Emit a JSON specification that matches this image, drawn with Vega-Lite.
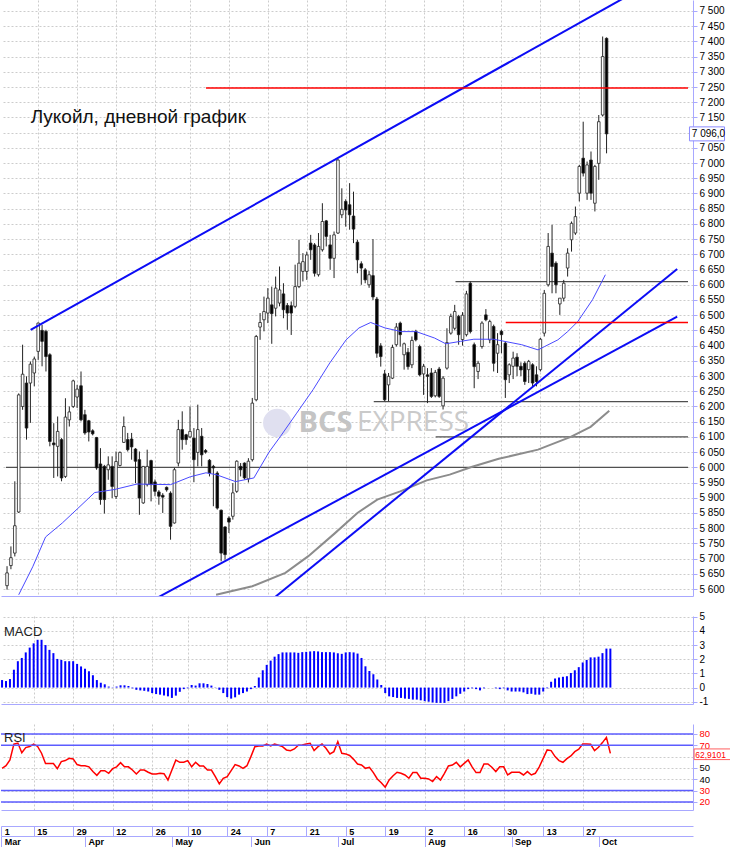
{
  "$schema": "https://vega.github.io/schema/vega-lite/v6.json",
  "padding": 0,
  "background": "white",
  "bounds": "flush",
  "spacing": 20,
  "config": {
    "view": {"stroke": null},
    "axis": {"labelFont": "Liberation Sans", "labelFontSize": 10, "labelColor": "#000000", "labelOverlap": false},
    "text": {"font": "Liberation Sans"}
  },
  "resolve": {"scale": {"x": "independent", "y": "independent"}},
  "datasets": {
    "bars": [
      {"k": -1, "o": 5611, "h": 5675, "l": 5598, "c": 5653, "m": 0.53, "r": 49.7},
      {"k": 0, "o": 5677, "h": 5740, "l": 5665, "c": 5703, "m": 0.46, "r": 52},
      {"k": 1, "o": 5718, "h": 5954, "l": 5707, "c": 5808, "m": 0.6, "r": 57},
      {"k": 2, "o": 5853, "h": 6243, "l": 5850, "c": 6238, "m": 1.26, "r": 71},
      {"k": 3, "o": 6200, "h": 6403, "l": 6189, "c": 6306, "m": 1.86, "r": 72},
      {"k": 4, "o": 6277, "h": 6299, "l": 6091, "c": 6129, "m": 2.09, "r": 63.5},
      {"k": 5, "o": 6277, "h": 6348, "l": 6146, "c": 6339, "m": 2.48, "r": 68},
      {"k": 6, "o": 6310, "h": 6364, "l": 6266, "c": 6356, "m": 2.82, "r": 69},
      {"k": 7, "o": 6381, "h": 6476, "l": 6353, "c": 6474, "m": 3.12, "r": 71},
      {"k": 8, "o": 6450, "h": 6468, "l": 6332, "c": 6414, "m": 3.37, "r": 69},
      {"k": 9, "o": 6447, "h": 6452, "l": 6315, "c": 6364, "m": 3.37, "r": 63},
      {"k": 10, "o": 6370, "h": 6375, "l": 6069, "c": 6085, "m": 3.0, "r": 54},
      {"k": 11, "o": 6080, "h": 6145, "l": 5965, "c": 6074, "m": 2.66, "r": 54},
      {"k": 12, "o": 6069, "h": 6167, "l": 5970, "c": 6118, "m": 2.43, "r": 54},
      {"k": 13, "o": 6091, "h": 6096, "l": 5954, "c": 5965, "m": 2.02, "r": 49.4},
      {"k": 14, "o": 5970, "h": 6227, "l": 5965, "c": 6165, "m": 1.95, "r": 55.6},
      {"k": 15, "o": 6156, "h": 6200, "l": 6134, "c": 6182, "m": 1.86, "r": 56.5},
      {"k": 16, "o": 6200, "h": 6288, "l": 6195, "c": 6284, "m": 1.86, "r": 58.5},
      {"k": 17, "o": 6231, "h": 6271, "l": 6195, "c": 6257, "m": 1.86, "r": 58},
      {"k": 18, "o": 6268, "h": 6315, "l": 6151, "c": 6156, "m": 1.67, "r": 53},
      {"k": 19, "o": 6173, "h": 6189, "l": 6107, "c": 6113, "m": 1.49, "r": 52},
      {"k": 20, "o": 6153, "h": 6156, "l": 6085, "c": 6116, "m": 1.33, "r": 52},
      {"k": 21, "o": 6120, "h": 6125, "l": 6105, "c": 6110, "m": 1.15, "r": 51},
      {"k": 22, "o": 6098, "h": 6100, "l": 5992, "c": 5998, "m": 0.87, "r": 46.8},
      {"k": 23, "o": 6011, "h": 6063, "l": 5877, "c": 5894, "m": 0.53, "r": 43.5},
      {"k": 24, "o": 6003, "h": 6008, "l": 5848, "c": 5894, "m": 0.34, "r": 47.6},
      {"k": 25, "o": 5992, "h": 6036, "l": 5959, "c": 6008, "m": 0.23, "r": 47.6},
      {"k": 26, "o": 6003, "h": 6036, "l": 5899, "c": 5937, "m": 0.07, "r": 45.3},
      {"k": 27, "o": 5904, "h": 6052, "l": 5896, "c": 6019, "m": 0.02, "r": 49.4},
      {"k": 28, "o": 6006, "h": 6052, "l": 6003, "c": 6049, "m": 0.07, "r": 51},
      {"k": 29, "o": 6082, "h": 6167, "l": 6080, "c": 6134, "m": 0.16, "r": 54.7},
      {"k": 30, "o": 6091, "h": 6113, "l": 6052, "c": 6058, "m": 0.16, "r": 51},
      {"k": 31, "o": 6093, "h": 6113, "l": 6025, "c": 6067, "m": 0.11, "r": 51},
      {"k": 32, "o": 6060, "h": 6063, "l": 5948, "c": 6020, "m": -0.05, "r": 48.2},
      {"k": 33, "o": 6025, "h": 6052, "l": 5844, "c": 5899, "m": -0.16, "r": 44.7},
      {"k": 34, "o": 5883, "h": 6003, "l": 5880, "c": 6003, "m": -0.2, "r": 48.2},
      {"k": 35, "o": 5943, "h": 6058, "l": 5937, "c": 6003, "m": -0.23, "r": 48.2},
      {"k": 36, "o": 6022, "h": 6025, "l": 5888, "c": 5943, "m": -0.28, "r": 46.2},
      {"k": 37, "o": 5952, "h": 5960, "l": 5905, "c": 5921, "m": -0.39, "r": 44.7},
      {"k": 38, "o": 5919, "h": 5925, "l": 5877, "c": 5905, "m": -0.46, "r": 44.7},
      {"k": 39, "o": 5908, "h": 5915, "l": 5850, "c": 5902, "m": -0.5, "r": 45.3},
      {"k": 40, "o": 5934, "h": 5937, "l": 5920, "c": 5926, "m": -0.56, "r": 45},
      {"k": 41, "o": 5915, "h": 5921, "l": 5762, "c": 5806, "m": -0.62, "r": 39.4},
      {"k": 42, "o": 5817, "h": 5998, "l": 5815, "c": 5992, "m": -0.73, "r": 48.2},
      {"k": 43, "o": 6014, "h": 6156, "l": 6003, "c": 6124, "m": -0.57, "r": 57},
      {"k": 44, "o": 6124, "h": 6184, "l": 6058, "c": 6091, "m": -0.3, "r": 55},
      {"k": 45, "o": 6107, "h": 6110, "l": 6074, "c": 6091, "m": -0.11, "r": 55},
      {"k": 46, "o": 6100, "h": 6200, "l": 6096, "c": 6118, "m": -0.05, "r": 56.5},
      {"k": 47, "o": 6096, "h": 6129, "l": 5951, "c": 6025, "m": 0.18, "r": 51},
      {"k": 48, "o": 6049, "h": 6206, "l": 6003, "c": 6124, "m": 0.14, "r": 55},
      {"k": 49, "o": 6102, "h": 6129, "l": 6003, "c": 6041, "m": 0.3, "r": 51.8},
      {"k": 50, "o": 6055, "h": 6060, "l": 6045, "c": 6050, "m": 0.3, "r": 51.8},
      {"k": 51, "o": 6023, "h": 6027, "l": 5970, "c": 5981, "m": 0.25, "r": 48.2},
      {"k": 52, "o": 6003, "h": 6008, "l": 5872, "c": 5998, "m": 0.14, "r": 48.2},
      {"k": 53, "o": 5981, "h": 5987, "l": 5861, "c": 5866, "m": 0.02, "r": 42.4},
      {"k": 54, "o": 5859, "h": 5861, "l": 5691, "c": 5718, "m": -0.16, "r": 35.9},
      {"k": 55, "o": 5804, "h": 5806, "l": 5697, "c": 5713, "m": -0.39, "r": 40.9},
      {"k": 56, "o": 5833, "h": 5839, "l": 5784, "c": 5820, "m": -0.67, "r": 42.4},
      {"k": 57, "o": 5839, "h": 5948, "l": 5828, "c": 5916, "m": -0.78, "r": 47.6},
      {"k": 58, "o": 5921, "h": 6023, "l": 5916, "c": 6020, "m": -0.69, "r": 53},
      {"k": 59, "o": 6003, "h": 6014, "l": 5970, "c": 5992, "m": -0.5, "r": 51.8},
      {"k": 60, "o": 6014, "h": 6016, "l": 5960, "c": 5965, "m": -0.39, "r": 49.7},
      {"k": 61, "o": 5962, "h": 6030, "l": 5950, "c": 6020, "m": -0.28, "r": 52},
      {"k": 62, "o": 6025, "h": 6228, "l": 6019, "c": 6211, "m": -0.11, "r": 60},
      {"k": 63, "o": 6222, "h": 6435, "l": 6217, "c": 6430, "m": 0.11, "r": 68.8},
      {"k": 64, "o": 6461, "h": 6507, "l": 6419, "c": 6476, "m": 0.71, "r": 69.4},
      {"k": 65, "o": 6485, "h": 6561, "l": 6447, "c": 6512, "m": 1.22, "r": 69.4},
      {"k": 66, "o": 6507, "h": 6589, "l": 6474, "c": 6556, "m": 1.6, "r": 71},
      {"k": 67, "o": 6534, "h": 6594, "l": 6406, "c": 6505, "m": 1.9, "r": 69.4},
      {"k": 68, "o": 6523, "h": 6627, "l": 6496, "c": 6589, "m": 2.18, "r": 71},
      {"k": 69, "o": 6540, "h": 6660, "l": 6529, "c": 6583, "m": 2.36, "r": 70},
      {"k": 70, "o": 6570, "h": 6605, "l": 6490, "c": 6518, "m": 2.48, "r": 68.8},
      {"k": 71, "o": 6532, "h": 6540, "l": 6452, "c": 6507, "m": 2.48, "r": 65.9},
      {"k": 72, "o": 6531, "h": 6545, "l": 6435, "c": 6507, "m": 2.48, "r": 65.3},
      {"k": 73, "o": 6529, "h": 6666, "l": 6523, "c": 6594, "m": 2.48, "r": 66.8},
      {"k": 74, "o": 6594, "h": 6748, "l": 6589, "c": 6671, "m": 2.45, "r": 70},
      {"k": 75, "o": 6644, "h": 6704, "l": 6611, "c": 6676, "m": 2.5, "r": 70.3},
      {"k": 76, "o": 6644, "h": 6709, "l": 6616, "c": 6698, "m": 2.52, "r": 71.2},
      {"k": 77, "o": 6737, "h": 6764, "l": 6682, "c": 6715, "m": 2.55, "r": 71.8},
      {"k": 78, "o": 6731, "h": 6737, "l": 6627, "c": 6638, "m": 2.57, "r": 65.3},
      {"k": 79, "o": 6633, "h": 6770, "l": 6627, "c": 6726, "m": 2.55, "r": 68.8},
      {"k": 80, "o": 6715, "h": 6868, "l": 6709, "c": 6808, "m": 2.5, "r": 71.2},
      {"k": 81, "o": 6810, "h": 6813, "l": 6726, "c": 6759, "m": 2.5, "r": 67.4},
      {"k": 82, "o": 6731, "h": 6764, "l": 6649, "c": 6687, "m": 2.5, "r": 62.4},
      {"k": 83, "o": 6687, "h": 6775, "l": 6622, "c": 6764, "m": 2.48, "r": 64.4},
      {"k": 84, "o": 6770, "h": 7013, "l": 6767, "c": 7010, "m": 2.42, "r": 73.2},
      {"k": 85, "o": 6830, "h": 6917, "l": 6819, "c": 6848, "m": 2.38, "r": 63},
      {"k": 86, "o": 6874, "h": 6881, "l": 6791, "c": 6846, "m": 2.48, "r": 62.4},
      {"k": 87, "o": 6863, "h": 6934, "l": 6781, "c": 6830, "m": 2.5, "r": 61},
      {"k": 88, "o": 6826, "h": 6906, "l": 6737, "c": 6783, "m": 2.48, "r": 57.6},
      {"k": 89, "o": 6740, "h": 6748, "l": 6638, "c": 6682, "m": 2.4, "r": 53.5},
      {"k": 90, "o": 6669, "h": 6677, "l": 6600, "c": 6655, "m": 2.09, "r": 52.6},
      {"k": 91, "o": 6649, "h": 6655, "l": 6605, "c": 6616, "m": 1.5, "r": 49.7},
      {"k": 92, "o": 6600, "h": 6645, "l": 6590, "c": 6633, "m": 1.17, "r": 50.6},
      {"k": 93, "o": 6630, "h": 6750, "l": 6550, "c": 6560, "m": 0.94, "r": 45.9},
      {"k": 94, "o": 6553, "h": 6560, "l": 6360, "c": 6375, "m": 0.57, "r": 40.3},
      {"k": 95, "o": 6399, "h": 6408, "l": 6331, "c": 6364, "m": 0.18, "r": 37},
      {"k": 96, "o": 6307, "h": 6320, "l": 6217, "c": 6222, "m": -0.39, "r": 33},
      {"k": 97, "o": 6271, "h": 6310, "l": 6217, "c": 6299, "m": -0.62, "r": 39.4},
      {"k": 98, "o": 6293, "h": 6403, "l": 6290, "c": 6394, "m": -0.67, "r": 43.2},
      {"k": 99, "o": 6403, "h": 6474, "l": 6397, "c": 6461, "m": -0.73, "r": 46.2},
      {"k": 100, "o": 6474, "h": 6479, "l": 6397, "c": 6436, "m": -0.73, "r": 45.3},
      {"k": 101, "o": 6370, "h": 6410, "l": 6321, "c": 6406, "m": -0.78, "r": 43.8},
      {"k": 102, "o": 6378, "h": 6392, "l": 6321, "c": 6331, "m": -0.8, "r": 40.9},
      {"k": 103, "o": 6337, "h": 6430, "l": 6326, "c": 6417, "m": -0.85, "r": 45.9},
      {"k": 104, "o": 6447, "h": 6452, "l": 6414, "c": 6419, "m": -0.85, "r": 45.9},
      {"k": 105, "o": 6397, "h": 6403, "l": 6299, "c": 6304, "m": -0.9, "r": 40.9},
      {"k": 106, "o": 6307, "h": 6340, "l": 6238, "c": 6332, "m": -0.96, "r": 40.9},
      {"k": 107, "o": 6304, "h": 6326, "l": 6211, "c": 6299, "m": -1.0, "r": 40.3},
      {"k": 108, "o": 6310, "h": 6326, "l": 6228, "c": 6233, "m": -1.05, "r": 38},
      {"k": 109, "o": 6235, "h": 6320, "l": 6230, "c": 6312, "m": -1.08, "r": 42.4},
      {"k": 110, "o": 6323, "h": 6330, "l": 6228, "c": 6233, "m": -1.08, "r": 39.4},
      {"k": 111, "o": 6202, "h": 6300, "l": 6190, "c": 6293, "m": -1.08, "r": 45.3},
      {"k": 112, "o": 6326, "h": 6457, "l": 6321, "c": 6410, "m": -0.96, "r": 51.8},
      {"k": 113, "o": 6441, "h": 6505, "l": 6436, "c": 6496, "m": -0.8, "r": 52.6},
      {"k": 114, "o": 6457, "h": 6534, "l": 6450, "c": 6512, "m": -0.62, "r": 55},
      {"k": 115, "o": 6496, "h": 6501, "l": 6403, "c": 6436, "m": -0.44, "r": 51},
      {"k": 116, "o": 6420, "h": 6510, "l": 6400, "c": 6500, "m": -0.28, "r": 54},
      {"k": 117, "o": 6436, "h": 6580, "l": 6430, "c": 6570, "m": -0.11, "r": 57},
      {"k": 118, "o": 6605, "h": 6611, "l": 6440, "c": 6446, "m": -0.05, "r": 51},
      {"k": 119, "o": 6403, "h": 6410, "l": 6260, "c": 6331, "m": -0.11, "r": 45.9},
      {"k": 120, "o": 6315, "h": 6350, "l": 6290, "c": 6342, "m": -0.2, "r": 45.9},
      {"k": 121, "o": 6397, "h": 6480, "l": 6390, "c": 6474, "m": -0.05, "r": 53.5},
      {"k": 122, "o": 6501, "h": 6520, "l": 6480, "c": 6485, "m": 0, "r": 53.5},
      {"k": 123, "o": 6419, "h": 6485, "l": 6408, "c": 6479, "m": 0, "r": 50.6},
      {"k": 124, "o": 6463, "h": 6469, "l": 6315, "c": 6342, "m": -0.05, "r": 46.8},
      {"k": 125, "o": 6375, "h": 6441, "l": 6310, "c": 6403, "m": -0.11, "r": 51},
      {"k": 126, "o": 6447, "h": 6452, "l": 6375, "c": 6436, "m": -0.05, "r": 51},
      {"k": 127, "o": 6408, "h": 6414, "l": 6228, "c": 6288, "m": -0.2, "r": 43.8},
      {"k": 128, "o": 6304, "h": 6342, "l": 6277, "c": 6337, "m": -0.28, "r": 46.2},
      {"k": 129, "o": 6332, "h": 6380, "l": 6290, "c": 6359, "m": -0.28, "r": 46.2},
      {"k": 130, "o": 6362, "h": 6375, "l": 6300, "c": 6332, "m": -0.28, "r": 46.2},
      {"k": 131, "o": 6332, "h": 6345, "l": 6300, "c": 6320, "m": -0.34, "r": 43.8},
      {"k": 132, "o": 6342, "h": 6348, "l": 6271, "c": 6282, "m": -0.46, "r": 46.8},
      {"k": 133, "o": 6321, "h": 6353, "l": 6277, "c": 6348, "m": -0.44, "r": 43.8},
      {"k": 134, "o": 6337, "h": 6342, "l": 6266, "c": 6277, "m": -0.5, "r": 45.3},
      {"k": 135, "o": 6304, "h": 6332, "l": 6266, "c": 6282, "m": -0.5, "r": 51},
      {"k": 136, "o": 6321, "h": 6425, "l": 6315, "c": 6421, "m": -0.28, "r": 58.5},
      {"k": 137, "o": 6441, "h": 6583, "l": 6430, "c": 6572, "m": -0.05, "r": 65.9},
      {"k": 138, "o": 6600, "h": 6770, "l": 6594, "c": 6726, "m": 0.41, "r": 65.3},
      {"k": 139, "o": 6704, "h": 6797, "l": 6572, "c": 6660, "m": 0.64, "r": 60},
      {"k": 140, "o": 6671, "h": 6677, "l": 6572, "c": 6600, "m": 0.71, "r": 56.5},
      {"k": 141, "o": 6537, "h": 6556, "l": 6501, "c": 6556, "m": 0.76, "r": 55},
      {"k": 142, "o": 6556, "h": 6616, "l": 6545, "c": 6605, "m": 0.8, "r": 58.2},
      {"k": 143, "o": 6655, "h": 6720, "l": 6627, "c": 6704, "m": 1.03, "r": 60.6},
      {"k": 144, "o": 6748, "h": 6808, "l": 6709, "c": 6802, "m": 1.22, "r": 64.4},
      {"k": 145, "o": 6770, "h": 6857, "l": 6764, "c": 6824, "m": 1.44, "r": 66.5},
      {"k": 146, "o": 6901, "h": 6994, "l": 6874, "c": 6989, "m": 1.77, "r": 71.2},
      {"k": 147, "o": 7016, "h": 7136, "l": 6956, "c": 6967, "m": 1.95, "r": 71.2},
      {"k": 148, "o": 6901, "h": 7005, "l": 6879, "c": 6994, "m": 2.13, "r": 70.9},
      {"k": 149, "o": 7010, "h": 7038, "l": 6879, "c": 6901, "m": 2.13, "r": 65.3},
      {"k": 150, "o": 6868, "h": 6994, "l": 6841, "c": 6989, "m": 2.18, "r": 68.2},
      {"k": 151, "o": 6999, "h": 7158, "l": 6945, "c": 7136, "m": 2.43, "r": 72.4},
      {"k": 152, "o": 7158, "h": 7416, "l": 7153, "c": 7350, "m": 2.75, "r": 77},
      {"k": 153, "o": 7410, "h": 7413, "l": 7032, "c": 7096, "m": 2.75, "r": 62.9}
    ],
    "ma20": [
      {"k": 2.0, "v": 5581}, {"k": 5.6, "v": 5673}, {"k": 8.9, "v": 5771}, {"k": 13.2, "v": 5817},
      {"k": 17.2, "v": 5865}, {"k": 21.5, "v": 5917}, {"k": 26.6, "v": 5927}, {"k": 32.4, "v": 5945},
      {"k": 41.0, "v": 5943}, {"k": 46.1, "v": 5969}, {"k": 50.1, "v": 5982}, {"k": 52.7, "v": 5976},
      {"k": 57.7, "v": 5953}, {"k": 62.4, "v": 5965}, {"k": 66.3, "v": 6050}, {"k": 69.2, "v": 6101},
      {"k": 73.4, "v": 6178}, {"k": 77.6, "v": 6255}, {"k": 81.9, "v": 6343}, {"k": 86.1, "v": 6419},
      {"k": 89.4, "v": 6458}, {"k": 92.4, "v": 6476}, {"k": 96.1, "v": 6458}, {"k": 100.3, "v": 6446},
      {"k": 104.1, "v": 6446}, {"k": 108.8, "v": 6425}, {"k": 111.7, "v": 6406}, {"k": 115.5, "v": 6414},
      {"k": 118.9, "v": 6421}, {"k": 124.0, "v": 6421}, {"k": 131.2, "v": 6403}, {"k": 135.4, "v": 6386},
      {"k": 137.1, "v": 6397}, {"k": 140.5, "v": 6419}, {"k": 143.0, "v": 6446}, {"k": 145.6, "v": 6479},
      {"k": 149.4, "v": 6551}, {"k": 152.7, "v": 6633}
    ],
    "ma200": [
      {"k": 52.7, "v": 5581}, {"k": 62.0, "v": 5609}, {"k": 70.5, "v": 5653}, {"k": 76.4, "v": 5708},
      {"k": 83.1, "v": 5782}, {"k": 89.0, "v": 5850}, {"k": 94.1, "v": 5894}, {"k": 100.0, "v": 5921},
      {"k": 106.8, "v": 5957}, {"k": 112.7, "v": 5976}, {"k": 118.5, "v": 6002}, {"k": 125.3, "v": 6028},
      {"k": 135.4, "v": 6058}, {"k": 143.8, "v": 6100}, {"k": 148.9, "v": 6133}, {"k": 153.7, "v": 6186}
    ],
    "trend": [
      {"id": "top", "k": 5.06, "v": 6452}, {"id": "top", "k": 160.76, "v": 7566},
      {"id": "low", "k": 36.7, "v": 5565}, {"id": "low", "k": 171.14, "v": 6495},
      {"id": "steep", "k": 67.04, "v": 5565}, {"id": "steep", "k": 171.14, "v": 6652}
    ],
    "levels": [
      {"k1": -1.266, "k2": 173.92, "v": 6000},
      {"k1": 109.1, "k2": 173.92, "v": 6100},
      {"k1": 93.2, "k2": 173.92, "v": 6216},
      {"k1": 114.2, "k2": 173.92, "v": 6610}
    ],
    "redlevels": [
      {"k1": 50.1, "k2": 173.92, "v": 7247},
      {"k1": 127.1, "k2": 173.92, "v": 6476}
    ]
  },
  "vconcat": [
    {
      "width": 692,
      "height": 596,
      "resolve": {"axis": {"x": "independent", "y": "independent"}},
      "layer": [
        {
          "data": {"values": [{"k": 68.4, "v": 6146}]},
          "mark": {"type": "point", "filled": true, "size": 800, "color": "#e0e0f0", "opacity": 1},
          "encoding": {
            "x": {"field": "k", "type": "quantitative", "title": null,
              "scale": {"domain": [-1.266, 173.92], "nice": false, "zero": false},
              "axis": {"orient": "bottom", "labels": false, "ticks": false, "domainColor": "#a8a8ff",
                "grid": true, "gridColor": "#cccccc", "gridDash": [2, 2],
                "values": [7, 17, 27, 37, 46, 56, 66, 76, 86, 96, 106, 116, 126, 136, 146]}},
            "y": {"field": "v", "type": "quantitative", "title": null,
              "scale": {"domain": [5577, 7536], "nice": false, "zero": false},
              "axis": {"orient": "right", "grid": true, "gridColor": "#cccccc", "gridDash": [2, 2],
                "domainColor": "#a8a8ff", "tickColor": "#a8a8ff", "tickSize": 4, "labelPadding": 2,
                "labelOverlap": false, "labelFontSize": 10,
                "labelExpr": "datum.value == 7100 ? '' : replace(format(datum.value, ','), ',', ' ')",
                "values": [5600, 5650, 5700, 5750, 5800, 5850, 5900, 5950, 6000, 6050, 6100, 6150, 6200, 6250, 6300, 6350, 6400, 6450, 6500, 6550, 6600, 6650, 6700, 6750, 6800, 6850, 6900, 6950, 7000, 7050, 7100, 7150, 7200, 7250, 7300, 7350, 7400, 7450, 7500]}}
          }
        },
        {
          "data": {"values": [{"k": 73.9, "v": 6146, "t": "BCS"}]},
          "mark": {"type": "text", "font": "Open Sans", "fontWeight": "bold", "fontSize": 29, "color": "#c4c4c4", "align": "left", "baseline": "middle"},
          "encoding": {
            "x": {"field": "k", "type": "quantitative", "axis": null},
            "y": {"field": "v", "type": "quantitative", "axis": null},
            "text": {"field": "t"}
          }
        },
        {
          "data": {"values": [{"k": 88.9, "v": 6146, "t": "EXPRESS"}]},
          "mark": {"type": "text", "font": "Open Sans", "fontSize": 28, "color": "#cacaca", "align": "left", "baseline": "middle"},
          "encoding": {
            "x": {"field": "k", "type": "quantitative", "axis": null},
            "y": {"field": "v", "type": "quantitative", "axis": null},
            "text": {"field": "t"}
          }
        },
        {
          "data": {"name": "levels"},
          "mark": {"type": "rule", "color": "#505050", "strokeWidth": 1.2},
          "encoding": {
            "x": {"field": "k1", "type": "quantitative", "axis": null},
            "x2": {"field": "k2"},
            "y": {"field": "v", "type": "quantitative", "axis": null}
          }
        },
        {
          "data": {"name": "bars"},
          "mark": {"type": "rule", "color": "#222222", "strokeWidth": 1, "clip": true},
          "encoding": {
            "x": {"field": "k", "type": "quantitative", "axis": null},
            "y": {"field": "l", "type": "quantitative", "axis": null},
            "y2": {"field": "h"}
          }
        },
        {
          "data": {"name": "bars"},
          "mark": {"type": "bar", "width": 2.6, "stroke": "#222222", "strokeWidth": 0.8, "clip": true},
          "encoding": {
            "x": {"field": "k", "type": "quantitative", "axis": null},
            "y": {"field": "o", "type": "quantitative", "axis": null},
            "y2": {"field": "c"},
            "fill": {"condition": {"test": "datum.c >= datum.o", "value": "#ffffff"}, "value": "#000000"}
          }
        },
        {
          "data": {"name": "ma200"},
          "mark": {"type": "line", "color": "#8c8c8c", "strokeWidth": 2, "clip": true},
          "encoding": {
            "x": {"field": "k", "type": "quantitative", "axis": null},
            "y": {"field": "v", "type": "quantitative", "axis": null}
          }
        },
        {
          "data": {"name": "ma20"},
          "mark": {"type": "line", "color": "#4a4aff", "strokeWidth": 1, "clip": true},
          "encoding": {
            "x": {"field": "k", "type": "quantitative", "axis": null},
            "y": {"field": "v", "type": "quantitative", "axis": null}
          }
        },
        {
          "data": {"name": "trend"},
          "mark": {"type": "line", "color": "#0c0cf5", "strokeWidth": 2, "clip": true},
          "encoding": {
            "x": {"field": "k", "type": "quantitative", "axis": null},
            "y": {"field": "v", "type": "quantitative", "axis": null},
            "detail": {"field": "id"}
          }
        },
        {
          "data": {"name": "redlevels"},
          "mark": {"type": "rule", "color": "#ff0000", "strokeWidth": 1.5},
          "encoding": {
            "x": {"field": "k1", "type": "quantitative", "axis": null},
            "x2": {"field": "k2"},
            "y": {"field": "v", "type": "quantitative", "axis": null}
          }
        },
        {
          "data": {"values": [{"k": 5.06, "v": 7152, "t": "Лукойл, дневной график"}]},
          "mark": {"type": "text", "fontSize": 19, "color": "#111111", "align": "left", "baseline": "middle"},
          "encoding": {
            "x": {"field": "k", "type": "quantitative", "axis": null},
            "y": {"field": "v", "type": "quantitative", "axis": null},
            "text": {"field": "t"}
          }
        },
        {
          "data": {"values": [{"v": 7096}]},
          "mark": {"type": "rect", "fill": "#ffffff", "stroke": "#8c8cff", "strokeWidth": 1, "clip": false},
          "encoding": {
            "x": {"datum": 174.3, "type": "quantitative", "axis": null},
            "x2": {"datum": 183.3},
            "y": {"datum": 7073, "type": "quantitative", "axis": null},
            "y2": {"datum": 7119}
          }
        },
        {
          "data": {"values": [{"v": 7096, "t": "7 096,0"}]},
          "mark": {"type": "text", "fontSize": 10, "color": "#000000", "align": "left", "baseline": "middle", "clip": false},
          "encoding": {
            "x": {"datum": 174.9, "type": "quantitative", "axis": null},
            "y": {"field": "v", "type": "quantitative", "axis": null},
            "text": {"field": "t"}
          }
        }
      ]
    },
    {
      "width": 692,
      "height": 88,
      "resolve": {"axis": {"x": "independent", "y": "independent"}},
      "layer": [
        {
          "data": {"name": "bars"},
          "mark": {"type": "rule", "color": "#0000ff", "strokeWidth": 2, "clip": true},
          "encoding": {
            "x": {"field": "k", "type": "quantitative", "title": null,
              "scale": {"domain": [-1.266, 173.92], "nice": false, "zero": false},
              "axis": {"orient": "bottom", "labels": false, "ticks": false, "domainColor": "#a8a8ff",
                "grid": true, "gridColor": "#cccccc", "gridDash": [2, 2],
                "values": [7, 17, 27, 37, 46, 56, 66, 76, 86, 96, 106, 116, 126, 136, 146]}},
            "y": {"field": "m", "type": "quantitative", "title": null,
              "scale": {"domain": [-1.16, 5.05], "nice": false, "zero": false},
              "axis": {"orient": "right", "values": [-1, 0, 1, 2, 3, 4, 5], "grid": true, "gridColor": "#cccccc", "gridDash": [2, 2],
                "domainColor": "#a8a8ff", "tickColor": "#a8a8ff", "tickSize": 4, "labelPadding": 2,
                "labelOverlap": false, "labelExpr": "toString(datum.value)"}},
            "y2": {"datum": 0}
          }
        },
        {
          "mark": {"type": "rule", "color": "#3c3cff", "strokeWidth": 1.5},
          "encoding": {
            "y": {"datum": 0, "type": "quantitative", "axis": null}
          }
        },
        {
          "data": {"values": [{"t": "MACD"}]},
          "mark": {"type": "text", "fontSize": 13, "color": "#222222", "align": "left", "baseline": "middle"},
          "encoding": {
            "x": {"datum": -0.5, "type": "quantitative", "axis": null},
            "y": {"datum": 3.92, "type": "quantitative", "axis": null},
            "text": {"field": "t"}
          }
        }
      ]
    },
    {
      "width": 692,
      "height": 86,
      "resolve": {"axis": {"x": "independent", "y": "independent"}},
      "layer": [
        {
          "data": {"name": "bars"},
          "mark": {"type": "line", "color": "#ff0000", "strokeWidth": 1.5, "clip": true},
          "encoding": {
            "x": {"field": "k", "type": "quantitative", "title": null,
              "scale": {"domain": [-1.266, 173.92], "nice": false, "zero": false},
              "axis": {"orient": "bottom", "labels": false, "ticks": false, "domainColor": "#a8a8ff",
                "grid": true, "gridColor": "#cccccc", "gridDash": [2, 2],
                "values": [7, 17, 27, 37, 46, 56, 66, 76, 86, 96, 106, 116, 126, 136, 146]}},
            "y": {"field": "r", "type": "quantitative", "title": null,
              "scale": {"domain": [12.9, 88.8], "nice": false, "zero": false},
              "axis": {"orient": "right", "values": [20, 30, 40, 50, 60, 70, 80], "grid": true, "gridColor": "#cccccc", "gridDash": [2, 2],
                "domainColor": "#a8a8ff", "tickColor": "#a8a8ff", "tickSize": 4, "labelPadding": 2,
                "labelOverlap": false, "labelFontSize": 9.5,
                "labelExpr": "datum.value == 60 ? '' : toString(datum.value)",
                "labelColor": {"condition": {"test": "datum.value == 40 || datum.value == 50 || datum.value == 60", "value": "#000000"}, "value": "#ff0000"}}}
          }
        },
        {
          "data": {"values": [{"v": 80}, {"v": 70}, {"v": 30}, {"v": 20}]},
          "mark": {"type": "rule", "color": "#5c5cff", "strokeWidth": 1.5},
          "encoding": {
            "x": {"datum": -1.266, "type": "quantitative", "title": null,
              "axis": {"orient": "bottom", "offset": 16, "grid": false,
                "values": [-1.2, 7, 17, 27, 37, 46, 56, 66, 76, 86, 96, 106, 116, 126, 136, 146],
                "labelExpr": "['1','15','29','12','26','10','24','7','21','5','19','2','16','30','13','27'][indexof([-1.2,7,17,27,37,46,56,66,76,86,96,106,116,126,136,146], datum.value)]",
                "domainColor": "#a8a8ff", "tickColor": "#a8a8ff", "tickSize": 10,
                "labelAlign": "left", "labelBaseline": "top", "labelPadding": -8.5, "labelOffset": 3,
                "labelFontWeight": "bold", "labelFontSize": 9, "labelOverlap": false, "labelFlush": false}},
            "x2": {"datum": 173.92},
            "y": {"field": "v", "type": "quantitative", "axis": null}
          }
        },
        {
          "data": {"values": [{"t": "RSI"}]},
          "mark": {"type": "text", "fontSize": 13, "color": "#222222", "align": "left", "baseline": "middle"},
          "encoding": {
            "x": {"datum": -0.5, "type": "quantitative", "title": null,
              "axis": {"orient": "bottom", "offset": 26, "grid": false,
                "values": [-1.2, 20, 42, 62, 84, 106, 128, 150],
                "labelExpr": "['Mar','Apr','May','Jun','Jul','Aug','Sep','Oct'][indexof([-1.2,20,42,62,84,106,128,150], datum.value)]",
                "domainColor": "#a8a8ff", "tickColor": "#a8a8ff", "tickSize": 11,
                "labelAlign": "left", "labelBaseline": "top", "labelPadding": -9.5, "labelOffset": 3,
                "labelFontWeight": "bold", "labelFontSize": 9, "labelOverlap": false, "labelFlush": false}},
            "y": {"datum": 76.4, "type": "quantitative", "axis": null},
            "text": {"field": "t"}
          }
        },
        {
          "mark": {"type": "rule", "color": "#a8a8ff", "strokeWidth": 1},
          "encoding": {
            "y": {"datum": 88.5, "type": "quantitative", "axis": null}
          }
        },
        {
          "data": {"values": [{"v": 62.91}]},
          "mark": {"type": "rect", "fill": "#ffffff", "stroke": "#ff6060", "strokeWidth": 1, "clip": false},
          "encoding": {
            "x": {"datum": 174.2, "type": "quantitative", "axis": null},
            "x2": {"datum": 184.6},
            "y": {"datum": 57.4, "type": "quantitative", "axis": null},
            "y2": {"datum": 66.8}
          }
        },
        {
          "data": {"values": [{"v": 62.91, "t": "62,9101"}]},
          "mark": {"type": "text", "fontSize": 8.5, "color": "#ff0000", "align": "left", "baseline": "middle", "dy": 1.5, "clip": false},
          "encoding": {
            "x": {"datum": 174.5, "type": "quantitative", "axis": null},
            "y": {"field": "v", "type": "quantitative", "axis": null},
            "text": {"field": "t"}
          }
        }
      ]
    }
  ]
}
